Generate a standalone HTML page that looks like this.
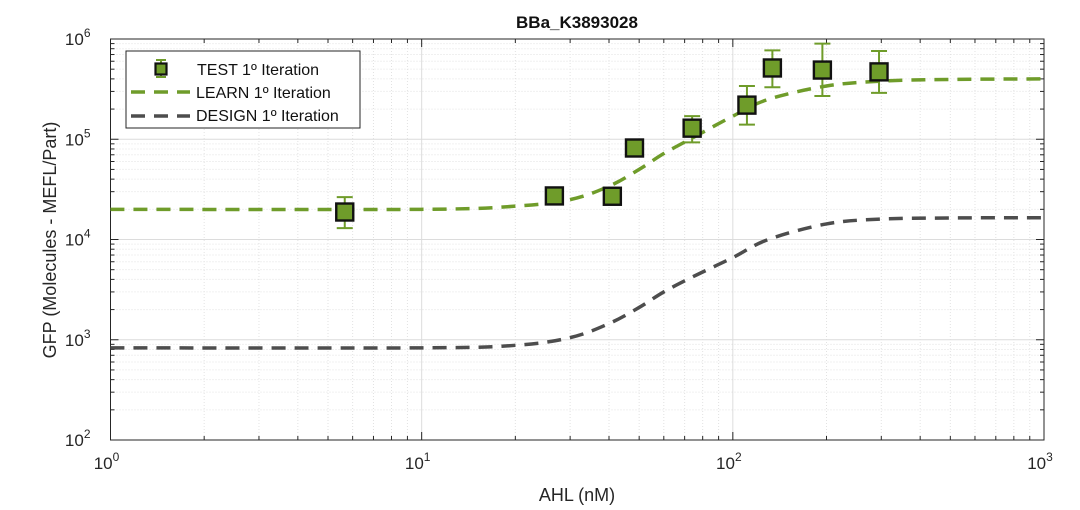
<!DOCTYPE html>
<html><head><meta charset="utf-8"><style>
body{margin:0;background:#fff;}
svg{display:block;font-family:"Liberation Sans",Arial,sans-serif;}
</style></head><body>
<svg id="chart" width="1080" height="510"></svg>
<script>
const testX=[5.66,26.7,41,48.3,74,111,134,194,295];
const testY=[18800,27200,27000,81800,129000,219000,514000,490000,470000];
const testLo=[13000,null,null,null,93000,140000,330000,270000,290000];
const testHi=[26500,null,null,null,170000,340000,770000,900000,760000];
const curveX=[1,10,20,30,40,50,60,75,100,130,200,300,500,1000];
const learnY=[20000,20000,21500,25000,34000,50000,72000,105000,170000,250000,340000,380000,395000,400000];
const designY=[830,830,880,1050,1450,2100,3000,4300,6600,10000,14300,16000,16400,16500];
const xTicks=[0,1,2,3];
const yTicks=[2,3,4,5,6];

const NS="http://www.w3.org/2000/svg";
const svg=document.getElementById('chart');
const L=110.5,R=1044,T=39,B=440;
const xs=v=>L+(Math.log10(v)-0)/3*(R-L);
const ys=v=>B-(Math.log10(v)-2)/4*(B-T);
function el(tag,attrs,parent){const e=document.createElementNS(NS,tag);for(const k in attrs)e.setAttribute(k,attrs[k]);(parent||svg).appendChild(e);return e;}

const grid=el('g',{});


for(let d=0;d<3;d++)for(let m=2;m<=9;m++){const x=xs(m*Math.pow(10,d));el('line',{x1:x,x2:x,y1:T,y2:B,stroke:'#e2e2e2','stroke-dasharray':'1,2'},grid);}
for(let d=2;d<6;d++)for(let m=2;m<=9;m++){const y=ys(m*Math.pow(10,d));el('line',{x1:L,x2:R,y1:y,y2:y,stroke:'#e2e2e2','stroke-dasharray':'1,2'},grid);}
xTicks.forEach(p=>{const x=xs(Math.pow(10,p));el('line',{x1:x,x2:x,y1:T,y2:B,stroke:'#dcdcdc'},grid);});
yTicks.forEach(p=>{const y=ys(Math.pow(10,p));el('line',{x1:L,x2:R,y1:y,y2:y,stroke:'#dcdcdc'},grid);});

const box=el('rect',{x:L,y:T,width:R-L,height:B-T,fill:'none',stroke:'#262626','stroke-width':1});


for(let d=0;d<3;d++)for(let m=1;m<=9;m++){const x=xs(m*Math.pow(10,d));const len=m===1?8:4;el('line',{x1:x,x2:x,y1:B,y2:B-len,stroke:'#262626'});el('line',{x1:x,x2:x,y1:T,y2:T+len,stroke:'#262626'});}
for(let d=2;d<6;d++)for(let m=1;m<=9;m++){const y=ys(m*Math.pow(10,d));const len=m===1?8:4;el('line',{x1:L,x2:L+len,y1:y,y2:y,stroke:'#262626'});el('line',{x1:R,x2:R-len,y1:y,y2:y,stroke:'#262626'});}

xTicks.forEach(p=>{const t=el('text',{x:xs(Math.pow(10,p))-4,y:B+29,'text-anchor':'middle','font-size':17,fill:'#262626'});t.textContent='10';

const s=el('tspan',{dy:-8,'font-size':12},t);s.textContent=p;});
yTicks.forEach(p=>{const t=el('text',{x:L-20,y:ys(Math.pow(10,p))+6,'text-anchor':'end','font-size':17,fill:'#262626'});t.textContent='10';

const s=el('tspan',{dy:-8,'font-size':12},t);s.textContent=p;});

function smoothPath(xa,ya){const pts=xa.map((x,i)=>[xs(x),ys(ya[i])]);let d='M'+pts[0][0]+','+pts[0][1];
for(let i=0;i<pts.length-1;i++){const p0=pts[Math.max(0,i-1)],p1=pts[i],p2=pts[i+1],p3=pts[Math.min(pts.length-1,i+2)];
d+=' C'+(p1[0]+(p2[0]-p0[0])/6)+','+(p1[1]+(p2[1]-p0[1])/6)+' '+(p2[0]-(p3[0]-p1[0])/6)+','+(p2[1]-(p3[1]-p1[1])/6)+' '+p2[0]+','+p2[1];}return d;}
const design=el('path',{d:smoothPath(curveX,designY),fill:'none',stroke:'#4d4d4d','stroke-width':3.5,'stroke-dasharray':'14,9'});


const learn=el('path',{d:smoothPath(curveX,learnY),fill:'none',stroke:'#6f9c2a','stroke-width':3.5,'stroke-dasharray':'14,9'});



testX.forEach((xv,i)=>{const x=xs(xv),y=ys(testY[i]);
if(testLo[i]!==null){const g=el('g',{stroke:'#6f9c2a','stroke-width':2});


el('line',{x1:x,x2:x,y1:ys(testLo[i]),y2:ys(testHi[i])},g);
el('line',{x1:x-8,x2:x+8,y1:ys(testLo[i]),y2:ys(testLo[i])},g);
el('line',{x1:x-8,x2:x+8,y1:ys(testHi[i]),y2:ys(testHi[i])},g);}
const r=el('rect',{x:x-8.5,y:y-8.5,width:17,height:17,fill:'#6f9c2a',stroke:'#111','stroke-width':2.4});

});

const lg=el('g',{});


el('rect',{x:126,y:51,width:234,height:77,fill:'#fff',stroke:'#262626'},lg);
const e1=el('g',{},lg);


el('line',{x1:161,x2:161,y1:60,y2:77,stroke:'#6f9c2a','stroke-width':2},e1);
el('line',{x1:156,x2:166,y1:60,y2:60,stroke:'#6f9c2a','stroke-width':2},e1);
el('line',{x1:156,x2:166,y1:77,y2:77,stroke:'#6f9c2a','stroke-width':2},e1);
el('rect',{x:155.5,y:63.5,width:11,height:11,fill:'#6f9c2a',stroke:'#111','stroke-width':2.2},e1);
let t=el('text',{x:197,y:75,'font-size':16,fill:'#111'},e1);t.textContent='TEST 1º Iteration';
const e2=el('g',{},lg);


el('line',{x1:131,x2:190,y1:92,y2:92,stroke:'#6f9c2a','stroke-width':3.5,'stroke-dasharray':'14,9'},e2);
t=el('text',{x:196,y:98,'font-size':16,fill:'#111'},e2);t.textContent='LEARN 1º Iteration';
const e3=el('g',{},lg);


el('line',{x1:131,x2:190,y1:116,y2:116,stroke:'#4d4d4d','stroke-width':3.5,'stroke-dasharray':'14,9'},e3);
t=el('text',{x:196,y:121,'font-size':16,fill:'#111'},e3);t.textContent='DESIGN 1º Iteration';

t=el('text',{x:577,y:28,'text-anchor':'middle','font-size':17,'font-weight':'bold',fill:'#111'});t.textContent='BBa_K3893028';

t=el('text',{x:577,y:501,'text-anchor':'middle','font-size':18,fill:'#262626'});t.textContent='AHL (nM)';

t=el('text',{x:0,y:0,'text-anchor':'middle','font-size':18,fill:'#262626',transform:'translate(56,240) rotate(-90)'});t.textContent='GFP (Molecules - MEFL/Part)';

</script>
</body></html>
